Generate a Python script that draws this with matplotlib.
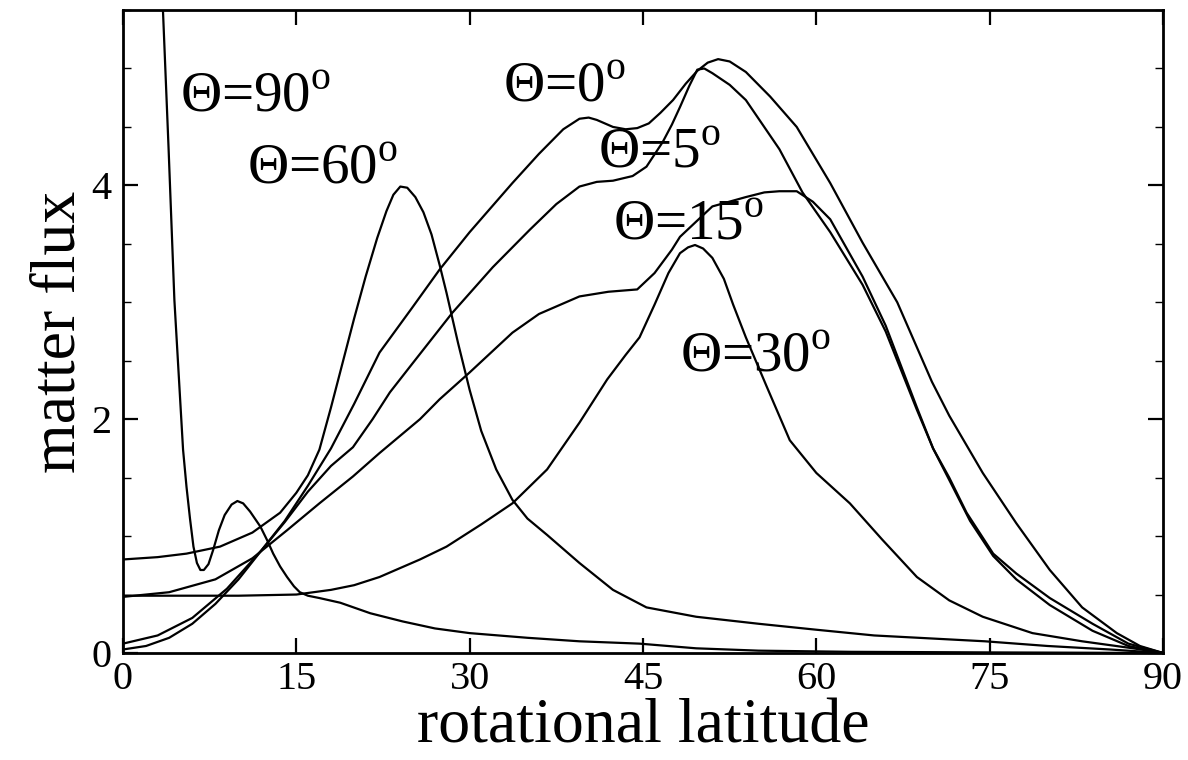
import matplotlib
matplotlib.use("Agg")
import matplotlib.pyplot as plt
from matplotlib.ticker import MultipleLocator

plt.rcParams['font.family'] = ['Liberation Serif', 'DejaVu Serif']
plt.rcParams['mathtext.fontset'] = 'custom'
plt.rcParams['mathtext.rm'] = 'Liberation Serif'

# matter flux vs rotational latitude, one curve per viewing angle Theta
x_00 = [0, 2, 4, 6, 8, 10, 12, 14, 16, 18, 20, 22.2, 25, 27.4, 30, 33.7, 36, 38.1,
        39.5, 40.3, 41, 42.4, 43.5, 44.5, 45.5, 46.5, 47.6, 48.7, 49.7, 50.6, 51.5,
        52.5, 53.9, 56, 58.3, 61.2, 64, 67, 70, 71.5, 74.4, 77.3, 80.2, 83, 86, 88, 90]
y_00 = [0.03, 0.06, 0.13, 0.25, 0.42, 0.63, 0.88, 1.13, 1.43, 1.75, 2.13, 2.57, 2.95,
        3.28, 3.6, 4.02, 4.27, 4.48, 4.57, 4.58, 4.56, 4.5, 4.48, 4.49, 4.53, 4.62,
        4.73, 4.87, 4.98, 5.05, 5.08, 5.06, 4.97, 4.76, 4.5, 4.02, 3.51, 3.0, 2.32,
        2.03, 1.54, 1.11, 0.71, 0.39, 0.17, 0.06, 0]

x_05 = [0, 3, 6, 9, 12, 14, 16, 18, 19.9, 21.6, 23.1, 25, 28.5, 32, 35.2, 37.5, 39.5,
        41, 42.4, 44.1, 45.3, 46.7, 47.5, 48.2, 49, 49.7, 50.3, 51, 52.5, 53.9, 56.8,
        58.8, 61.2, 64, 66, 68.7, 70.1, 71.5, 73.3, 75.3, 77.3, 80.2, 83.9, 87, 90]
y_05 = [0.08, 0.15, 0.3, 0.55, 0.88, 1.12, 1.38, 1.6, 1.76, 2.0, 2.23, 2.47, 2.91, 3.3,
        3.62, 3.84, 3.99, 4.03, 4.04, 4.08, 4.16, 4.37, 4.52, 4.67, 4.85, 4.99, 5.0,
        4.96, 4.86, 4.73, 4.31, 3.94, 3.6, 3.15, 2.75, 2.08, 1.75, 1.48, 1.13, 0.83,
        0.63, 0.41, 0.19, 0.06, 0]

x_15 = [0, 4, 8, 11.2, 14.2, 17, 19.9, 22.2, 25.7, 27.4, 30, 33.7, 36, 39.5, 42, 44.5,
        46, 47.5, 48.2, 51, 53.9, 55.5, 56.8, 58.3, 59.7, 61.2, 64, 66, 68.7, 70.1,
        71.5, 73, 75.3, 77.3, 80.2, 83.9, 87, 90]
y_15 = [0.48, 0.52, 0.63, 0.81, 1.05, 1.28, 1.51, 1.71, 2.0, 2.17, 2.4, 2.74, 2.9, 3.05,
        3.09, 3.11, 3.25, 3.45, 3.56, 3.82, 3.9, 3.94, 3.95, 3.95, 3.86, 3.71, 3.22,
        2.8, 2.1, 1.75, 1.5, 1.2, 0.85, 0.68, 0.47, 0.25, 0.08, 0]

x_30 = [0, 5, 10, 15, 18, 20, 22.2, 25.7, 28, 31, 33.7, 36.7, 39.5, 41.9, 43.5, 44.7,
        46, 47.2, 48.2, 48.9, 49.5, 50.2, 51, 52, 52.8, 53.9, 55.7, 57.7, 60, 62.9,
        65.7, 68.7, 71.5, 74.4, 78.7, 83, 87.4, 90]
y_30 = [0.49, 0.49, 0.49, 0.5, 0.54, 0.58, 0.65, 0.8, 0.91, 1.1, 1.28, 1.57, 1.97, 2.34,
        2.55, 2.7, 2.98, 3.25, 3.42, 3.47, 3.49, 3.46, 3.38, 3.2, 2.98, 2.7, 2.28,
        1.82, 1.54, 1.28, 0.97, 0.65, 0.45, 0.31, 0.17, 0.1, 0.04, 0]

x_60 = [0, 3, 5.5, 8.4, 11.2, 13.6, 15, 16, 17, 18, 19, 20, 21, 22, 22.8, 23.4, 24,
        24.6, 25.3, 26, 26.7, 27.4, 28, 29, 30, 31, 32.3, 33.7, 35, 36.7, 39.5, 42.4,
        45.3, 49.6, 55, 59.9, 65, 74.6, 80, 85.4, 90]
y_60 = [0.8, 0.82, 0.85, 0.91, 1.03, 1.2, 1.37, 1.52, 1.74, 2.1, 2.48, 2.86, 3.22, 3.55,
        3.78, 3.92, 3.99, 3.98, 3.9, 3.77, 3.58, 3.32, 3.08, 2.65, 2.25, 1.9, 1.57,
        1.31, 1.15, 1.01, 0.77, 0.54, 0.39, 0.31, 0.25, 0.2, 0.15, 0.1, 0.06, 0.03, 0]

x_90 = [3.3, 3.46, 3.95, 4.45, 4.93, 5.2, 5.5, 5.8, 6.1, 6.4, 6.7, 7.0, 7.4, 7.8, 8.3,
        8.8, 9.4, 9.9, 10.4, 11, 11.9, 12.5, 13.0, 13.6, 14.2, 14.8, 15.3, 16, 17,
        18.8, 21.4, 24.2, 27, 30, 35, 39.5, 44.7, 49.6, 55, 63, 75, 90]
y_90 = [5.9, 5.5, 4.31, 3.02, 2.2, 1.74, 1.42, 1.15, 0.91, 0.77, 0.71, 0.71, 0.76, 0.88,
        1.05, 1.18, 1.27, 1.3, 1.28, 1.21, 1.08, 0.96, 0.85, 0.74, 0.65, 0.57, 0.52,
        0.49, 0.47, 0.43, 0.34, 0.27, 0.21, 0.17, 0.13, 0.1, 0.08, 0.04, 0.02, 0.01,
        0.005, 0]

labels = ['\u0398=90$^{\\rm o}$', '\u0398=60$^{\\rm o}$', '\u0398=0$^{\\rm o}$',
          '\u0398=5$^{\\rm o}$', '\u0398=15$^{\\rm o}$', '\u0398=30$^{\\rm o}$']
label_x = [4.9, 10.7, 32.9, 41.1, 42.4, 48.2]
label_y = [4.64, 4.02, 4.72, 4.16, 3.54, 2.41]

fig = plt.figure(figsize=(11.88, 7.6), dpi=100)
ax = fig.add_axes([0.1035, 0.1408, 0.8755, 0.846])

for xs, ys in [(x_00, y_00), (x_05, y_05), (x_15, y_15), (x_30, y_30),
               (x_60, y_60), (x_90, y_90)]:
    ax.plot(xs, ys, color='black', lw=1.6, solid_joinstyle='round')

for txt, tx, ty in zip(labels, label_x, label_y):
    ax.text(tx, ty, txt, fontsize=41, ha='left', va='baseline')

ax.set_xlim(0, 90)
ax.set_ylim(0, 5.5)
ax.set_xticks([0, 15, 30, 45, 60, 75, 90])
ax.set_yticks([0, 2, 4])
ax.yaxis.set_minor_locator(MultipleLocator(0.5))

ax.tick_params(which='both', direction='in', top=True, right=True, labelsize=29, width=1.6)
ax.tick_params(which='major', length=11)
ax.tick_params(which='minor', length=6, width=1.0)
ax.tick_params(axis='x', pad=6)
ax.tick_params(axis='y', pad=8)
for sp in ax.spines.values():
    sp.set_linewidth(2)

ax.set_xlabel('rotational latitude', fontsize=46, labelpad=0)
ax.set_ylabel('matter flux', fontsize=46, labelpad=2)

fig.savefig('out.png', dpi=100)
